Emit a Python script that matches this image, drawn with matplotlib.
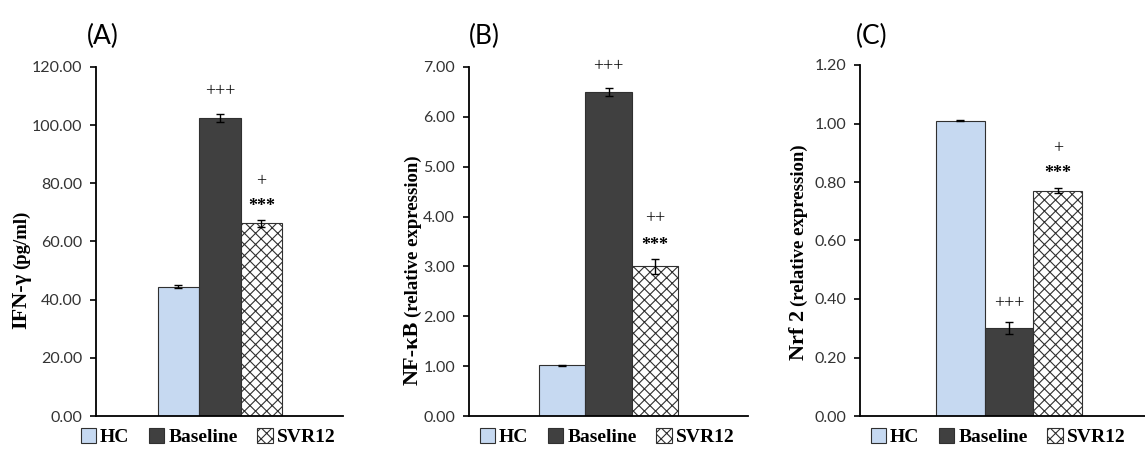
import numpy as np
import matplotlib.pyplot as plt
from matplotlib.ticker import FormatStrFormatter

groups = ["HC", "Baseline", "SVR12"]

ifn_vals = [44.5, 102.5, 66.3]
ifn_err = [0.5, 1.5, 1.2]
nfkb_vals = [1.02, 6.50, 3.00]
nfkb_err = [0.01, 0.08, 0.15]
nrf2_vals = [1.01, 0.30, 0.77]
nrf2_err = [0.002, 0.02, 0.008]

# significance marks: (bar index, text, y value)
ifn_marks = [(1, "+++", 111.5), (2, "+", 80.5), (2, "***", 72.0)]
nfkb_marks = [(1, "+++", 7.0), (2, "++", 3.95), (2, "***", 3.42)]
nrf2_marks = [(2, "+", 0.915), (2, "***", 0.83), (1, "+++", 0.385)]

bar_colors = ["#c6d9f1", "#404040", "white"]
hatches = [None, None, "xxx"]

plt.rcParams['hatch.color'] = '#505050'
plt.rcParams['hatch.linewidth'] = 0.8

fig = plt.figure(figsize=(11.45, 4.55), dpi=100)
W, H = 1145., 455.
renderer = fig.canvas.get_renderer()

def px_axes(l, r, t, b):
    return fig.add_axes([l/W, 1-b/H, (r-l)/W, (b-t)/H])

panels = [
    dict(box=(96, 343, 67, 416), xlim=(-1.99, 3.97), ylim=(0, 120), step=20,
         vals=ifn_vals, err=ifn_err, marks=ifn_marks, title="(A)", tx=103,
         main="IFN-γ", sub="(pg/ml)", lx=21, ly1=329, legx=208),
    dict(box=(469, 748, 67, 416), xlim=(-2.01, 4.01), ylim=(0, 7), step=1,
         vals=nfkb_vals, err=nfkb_err, marks=nfkb_marks, title="(B)", tx=484,
         main="NF-κB", sub="(relative expression)", lx=413, ly1=385, legx=607),
    dict(box=(860, 1145, 65, 416), xlim=(-2.06, 3.79), ylim=(0, 1.2), step=0.2,
         vals=nrf2_vals, err=nrf2_err, marks=nrf2_marks, title="(C)", tx=872,
         main="Nrf 2", sub="(relative expression)", lx=799, ly1=360, legx=998),
]

x = np.arange(len(groups))
for p in panels:
    ax = px_axes(*p["box"])
    bars = []
    for i in range(len(groups)):
        b = ax.bar(x[i], p["vals"][i], width=1.0, color=bar_colors[i],
                   edgecolor="#303030", linewidth=0.8, hatch=hatches[i],
                   label=groups[i], zorder=2)
        bars.append(b)
    ax.errorbar(x, p["vals"], yerr=p["err"], fmt="none", ecolor="black",
                elinewidth=1, capsize=3, capthick=1, zorder=3)
    for i, txt, yv in p["marks"]:
        ax.text(x[i], yv, txt, ha="center", va="center", fontsize=13,
                family="Liberation Serif", fontweight="bold" if "*" in txt else "normal")
    ax.set_xlim(*p["xlim"])
    ax.set_ylim(*p["ylim"])
    ax.set_yticks(np.arange(0, p["ylim"][1] + p["step"] / 2, p["step"]))
    ax.yaxis.set_major_formatter(FormatStrFormatter("%.2f"))
    ax.set_xticks([])
    for s in ["top", "right"]:
        ax.spines[s].set_visible(False)
    for s in ["left", "bottom"]:
        ax.spines[s].set_linewidth(1.3)
    ax.tick_params(axis="y", length=4, width=1.2, labelsize=11.5, labelcolor="#333333", pad=6)
    for lab in ax.get_yticklabels():
        lab.set_family("Lato")
    fig.text(p["tx"] / W, 1 - 36 / H, p["title"], ha="center", va="center",
             fontsize=19, family="Lato")
    t1 = fig.text(p["lx"] / W, 1 - p["ly1"] / H, p["main"], rotation=90, ha="center",
                  va="bottom", fontsize=16, fontweight="bold", family="Liberation Serif")
    bb = t1.get_window_extent(renderer)
    fig.text(p["lx"] / W, (bb.y1 + 4) / H, p["sub"], rotation=90, ha="center",
             va="bottom", fontsize=13.5, fontweight="bold", family="Liberation Serif")
    fig.legend(handles=bars, labels=groups, loc="center", ncol=3,
               bbox_to_anchor=(p["legx"] / W, 1 - 437 / H), frameon=False,
               handlelength=0.8, handleheight=0.8, handletextpad=0.2,
               columnspacing=1.0, prop=dict(family="Liberation Serif", weight="bold", size=14))

fig.savefig("out.png", dpi=100)
